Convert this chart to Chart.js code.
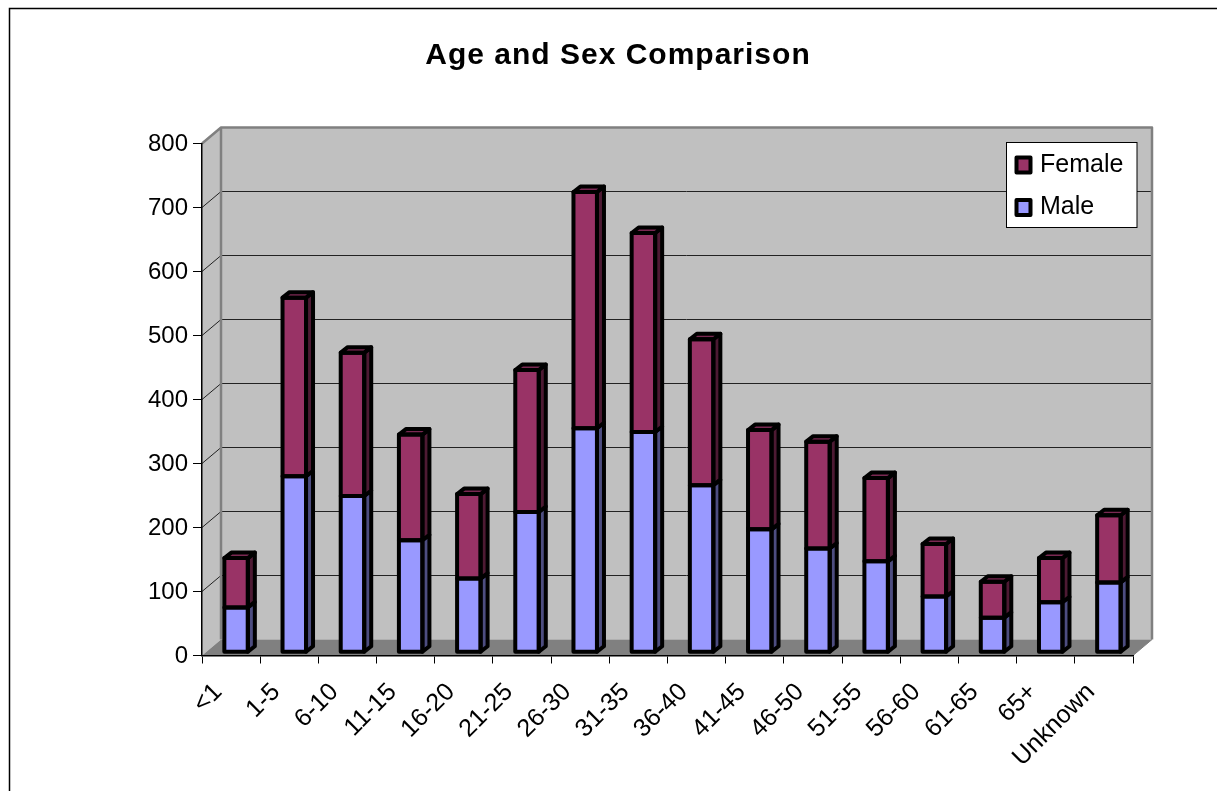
<!DOCTYPE html>
<html>
<head>
<meta charset="utf-8">
<title>Age and Sex Comparison</title>
<script src="https://cdn.jsdelivr.net/npm/chart.js@4/dist/chart.umd.min.js"></script>
<style>
  html, body { margin: 0; padding: 0; background: #fff; overflow: hidden; }
  #wrap { position: relative; width: 1217px; height: 791px; }
</style>
</head>
<body>
<div id="wrap"><canvas id="chart" width="1217" height="791"></canvas></div>
<script>
"use strict";
const categories = ["<1","1-5","6-10","11-15","16-20","21-25","26-30","31-35","36-40","41-45","46-50","51-55","56-60","61-65","65+","Unknown"];
const male = [70,275,244,175,115,219,350,344,261,192,162,142,87,54,78,109];
const female = [77,279,224,165,132,222,369,311,228,155,167,130,82,56,69,105];
const yMax = 800;
const yStep = 100;

const font = "'Liberation Sans', Arial, sans-serif";
const wallDepth = { x: 19, y: 16 };     // floor/back wall offset
const barShift = { x: 5, y: -3.3 };     // bars stand in the middle of the floor
const barDepth = { x: 7, y: 5.5 };
const barLine = 4;

const faceColors = [
	{ front: "#9999FF", side: "#4D4D80", top: "#7A7ACC" },
	{ front: "#993366", side: "#4D1A33", top: "#7A2952" }
];

function poly(ctx, pts, fill, stroke, lw) {
	ctx.beginPath();
	pts.forEach((p, i) => i ? ctx.lineTo(p[0], p[1]) : ctx.moveTo(p[0], p[1]));
	ctx.closePath();
	if (fill) { ctx.fillStyle = fill; ctx.fill(); }
	if (stroke) { ctx.strokeStyle = stroke; ctx.lineWidth = lw; ctx.stroke(); }
}

// frame, walls, floor and gridlines
const walls = {
	id: "walls",
	beforeDraw(chart) {
		const ctx = chart.ctx, a = chart.chartArea, y = chart.scales.y;
		const dx = wallDepth.x, dy = wallDepth.y;

		// the title in the reference is spaced out a little
		const tb = chart.titleBlock;
		if (!tb._spaced) {
			const orig = tb.draw;
			tb.draw = function () {
				ctx.save();
				ctx.letterSpacing = "1px";
				orig.apply(tb, arguments);
				ctx.restore();
			};
			tb._spaced = true;
		}

		ctx.save();
		ctx.strokeStyle = "#000";
		ctx.lineWidth = 1.5;
		ctx.beginPath();
		ctx.moveTo(9.5, 791);
		ctx.lineTo(9.5, 8.5);
		ctx.lineTo(1217, 8.5);
		ctx.stroke();

		ctx.lineJoin = "round";
		poly(ctx, [[a.left, a.top], [a.left + dx, a.top - dy], [a.left + dx, a.bottom - dy], [a.left, a.bottom]], "#C0C0C0");
		poly(ctx, [[a.left + dx, a.top - dy], [a.right + dx, a.top - dy], [a.right + dx, a.bottom - dy], [a.left + dx, a.bottom - dy]], "#C0C0C0");
		poly(ctx, [[a.left, a.bottom], [a.left + dx, a.bottom - dy], [a.right + dx, a.bottom - dy], [a.right, a.bottom]], "#808080");

		y.ticks.forEach((t) => {
			if (t.value === 0) return;
			const py = y.getPixelForValue(t.value);
			ctx.strokeStyle = "#222";
			ctx.lineWidth = 1;
			ctx.beginPath();
			ctx.moveTo(a.left, py);
			ctx.lineTo(a.left + dx, py - dy);
			ctx.lineTo(a.right + dx, py - dy);
			ctx.stroke();
		});

		ctx.strokeStyle = "#808080";
		ctx.lineWidth = 2.5;
		ctx.beginPath();
		ctx.moveTo(a.left, a.top);
		ctx.lineTo(a.left + dx, a.top - dy);
		ctx.lineTo(a.right + dx, a.top - dy);
		ctx.lineTo(a.right + dx, a.bottom - dy);
		ctx.moveTo(a.left + dx, a.top - dy);
		ctx.lineTo(a.left + dx, a.bottom - dy);
		ctx.stroke();
		ctx.lineWidth = 1;
		ctx.beginPath();
		ctx.moveTo(a.right, a.bottom);
		ctx.lineTo(a.right + dx, a.bottom - dy);
		ctx.stroke();
		ctx.restore();
	}
};

// side and top faces plus the heavy outline of each bar
const bars3d = {
	id: "bars3d",
	beforeDatasetsDraw(chart) {
		chart.ctx.save();
		chart.ctx.translate(barShift.x, barShift.y);
	},
	afterDatasetsDraw(chart) {
		const ctx = chart.ctx, dx = barDepth.x, dy = barDepth.y, last = chart.data.datasets.length - 1;
		ctx.lineJoin = "round";
		chart.data.datasets.forEach((ds, d) => {
			const c = faceColors[d];
			chart.getDatasetMeta(d).data.forEach((b) => {
				const l = b.x - b.width / 2, r = b.x + b.width / 2;
				poly(ctx, [[r, b.base], [r + dx, b.base - dy], [r + dx, b.y - dy], [r, b.y]], c.side, "#000", barLine);
				// only the top segment of a stack shows its lid
				if (d === last) poly(ctx, [[l, b.y], [l + dx, b.y - dy], [r + dx, b.y - dy], [r, b.y]], c.top, "#000", barLine);
				poly(ctx, [[l, b.base], [l, b.y], [r, b.y], [r, b.base]], null, "#000", barLine);
			});
		});
		ctx.restore();
	}
};

// legend box sits over the plot, Female listed first
const legendBox = {
	id: "legendBox",
	afterDraw(chart) {
		const ctx = chart.ctx;
		ctx.save();
		ctx.fillStyle = "#fff";
		ctx.fillRect(1006.5, 142.5, 130.5, 85);
		ctx.strokeStyle = "#000";
		ctx.lineWidth = 1;
		ctx.strokeRect(1006.5, 142.5, 130.5, 85);
		ctx.lineJoin = "round";
		const rows = [{ d: 1, y: 165 }, { d: 0, y: 207.5 }];
		rows.forEach((row) => {
			const ds = chart.data.datasets[row.d];
			ctx.fillStyle = ds.backgroundColor;
			ctx.strokeStyle = "#000";
			ctx.lineWidth = barLine;
			ctx.beginPath();
			ctx.rect(1016.5, row.y - 7.5, 14, 15);
			ctx.fill();
			ctx.stroke();
			ctx.fillStyle = "#000";
			ctx.font = "25px " + font;
			ctx.textAlign = "left";
			ctx.textBaseline = "middle";
			ctx.fillText(ds.label, 1040, row.y);
		});
		ctx.restore();
	}
};

new Chart(document.getElementById("chart"), {
	type: "bar",
	data: {
		labels: categories,
		datasets: [
			{ label: "Male", data: male, backgroundColor: faceColors[0].front, borderWidth: 0, categoryPercentage: 1, barPercentage: 0.404 },
			{ label: "Female", data: female, backgroundColor: faceColors[1].front, borderWidth: 0, categoryPercentage: 1, barPercentage: 0.404 }
		]
	},
	plugins: [walls, bars3d, legendBox],
	options: {
		responsive: false,
		animation: false,
		layout: { padding: { left: 103, right: 84, top: 0, bottom: 0 } },
		plugins: {
			legend: { display: false },
			tooltip: { enabled: false },
			title: {
				display: true,
				text: "Age and Sex Comparison",
				color: "#000",
				font: { family: font, size: 30, weight: "bold", lineHeight: 1 },
				padding: { top: 41, bottom: 72.5 }
			}
		},
		scales: {
			x: {
				stacked: true,
				offset: true,
				afterFit(scale) { scale.height = 135.5; },
				grid: { offset: true, drawOnChartArea: false, drawTicks: true, tickLength: 8, color: "#000", lineWidth: 1 },
				border: { color: "#000", width: 1.5 },
				ticks: { color: "#000", font: { family: font, size: 25 }, minRotation: 45, maxRotation: 45, autoSkip: false, padding: 14, labelOffset: -13 }
			},
			y: {
				stacked: true,
				min: 0,
				max: yMax,
				afterFit(scale) { scale.width = 99; },
				grid: { drawOnChartArea: false, drawTicks: true, tickLength: 9, color: "#000", lineWidth: 1 },
				border: { color: "#000", width: 1.5 },
				ticks: { color: "#000", stepSize: yStep, font: { family: font, size: 24 }, padding: 5, labelOffset: 1 }
			}
		}
	}
});
</script>
</body>
</html>
